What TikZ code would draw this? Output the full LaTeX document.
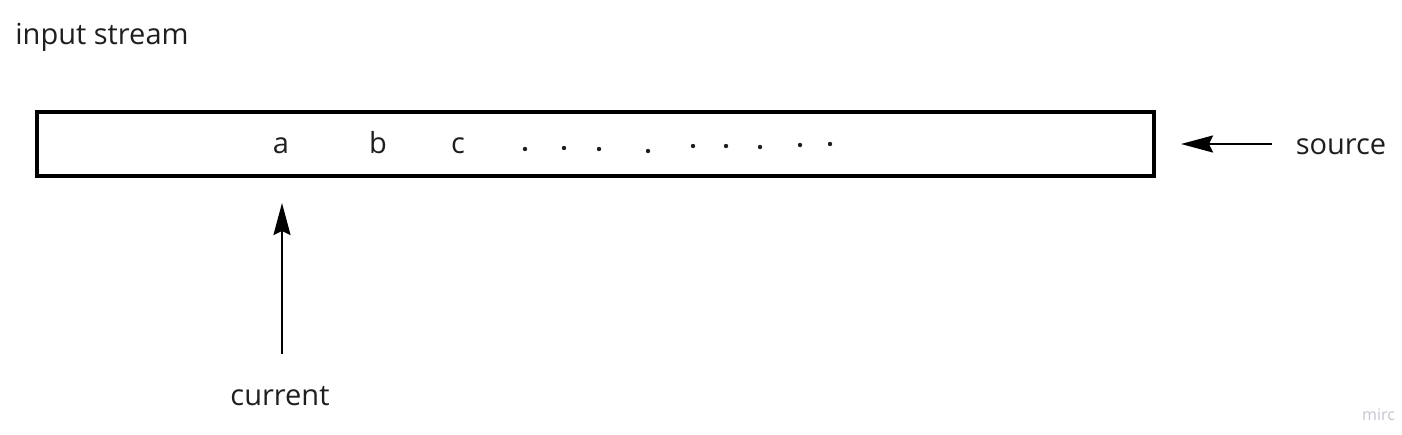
\documentclass[tikz,border=0pt]{standalone}
\usepackage{fontspec}
\setmainfont{Open Sans}
\usetikzlibrary{arrows.meta}
\definecolor{wmgray}{RGB}{196,198,208}
\begin{document}
\begin{tikzpicture}[x=1pt,y=-1pt,font=\fontsize{29}{34}\selectfont,
  lbl/.style={inner sep=0pt,anchor=base,text=black!88},
  ptr/.style={line width=2pt,-{Stealth[length=32pt,width=17pt,inset=4pt]}}]
\useasboundingbox(0,0)rectangle(1402,434);
\node[lbl](title)at(102,44){input stream};
\draw[line width=4pt](37,112)coordinate(sw)rectangle(1154,176)coordinate(ne);
\node[lbl](a)at(281,153){a};\node[lbl](b)at(378,153){b};\node[lbl](c)at(458,153){c};
\foreach \x/\y in {525/149,564/148,599/149,648/151,693/146,726/146,760/147,800/145,830/144}
  \fill[black!88](\x,\y)circle(2.2pt);
\node[lbl](src)at(1341,154){source};
\coordinate(srcend)at(1272,144);\coordinate(srctip)at(1181,144);
\draw[ptr](srcend)--(srctip);
\node[lbl](cur)at(280,405){current};
\coordinate(curend)at(282,354);\coordinate(curtip)at(282,203);
\draw[ptr](curend)--(curtip);
\node[lbl,anchor=base west,font=\fontsize{16}{19}\selectfont,text=wmgray](wm)at(1362,420){mirc};
\end{tikzpicture}
\end{document}
